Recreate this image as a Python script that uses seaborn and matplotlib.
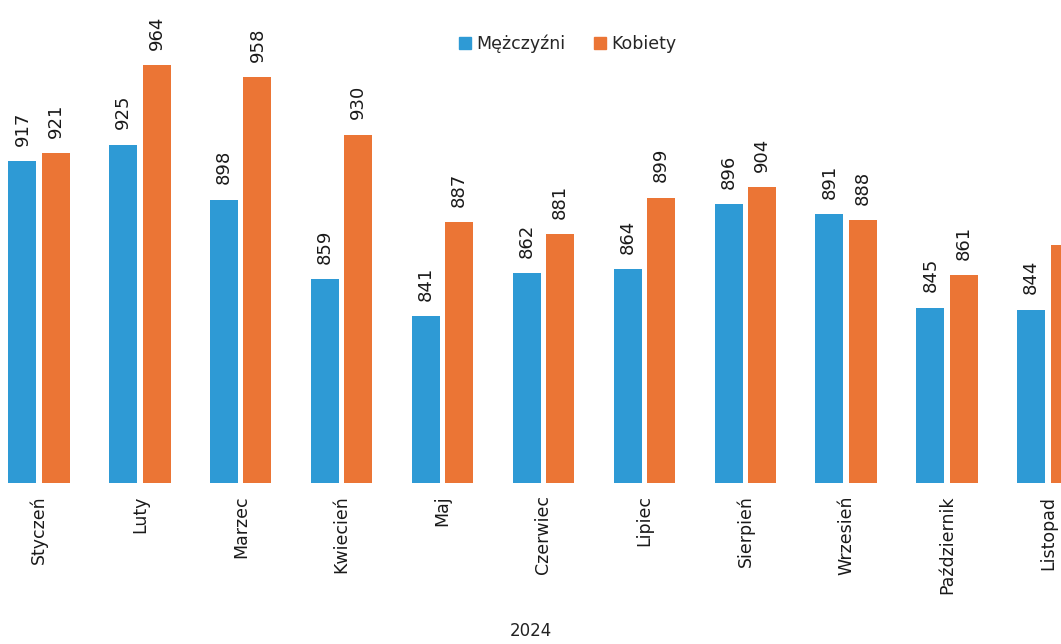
"""Monthly values 2024 by sex: grouped bar chart (cropped view)."""

import matplotlib.pyplot as plt
import pandas as pd
import seaborn as sns

months = ["Styczeń", "Luty", "Marzec", "Kwiecień", "Maj", "Czerwiec",
          "Lipiec", "Sierpień", "Wrzesień", "Październik", "Listopad"]
men = [917, 925, 898, 859, 841, 862, 864, 896, 891, 845, 844]
women = [921, 964, 958, 930, 887, 881, 899, 904, 888, 861, 876]
series = ["Mężczyźni", "Kobiety"]
colors = ["#2E9AD5", "#EB7535"]

df = pd.DataFrame({
    "miesiac": months * 2,
    "wartosc": men + women,
    "plec": [series[0]] * len(months) + [series[1]] * len(months),
})

sns.set_style("white")
plt.rcParams["font.family"] = ["DejaVu Sans"]

fig = plt.figure(figsize=(10.61, 6.44), dpi=100)
ax = fig.add_axes([0.0, 0.25, 1.0, 0.75])

sns.barplot(data=df, x="miesiac", y="wartosc", hue="plec",
            palette=colors, saturation=1, width=0.66, gap=0.16,
            linewidth=0, ax=ax, legend=False)

# value labels above bars, rotated
for cont in ax.containers:
    ax.bar_label(cont, fmt="%d", rotation=90, padding=11,
                 fontsize=13, color="#1a1a1a")

ax.set_xlim(-0.387, 10.13)
ax.set_ylim(759, 996)
ax.set_yticks([])
for s in ax.spines.values():
    s.set_visible(False)

ax.tick_params(axis="x", length=0, pad=9, labelsize=12.5, rotation=90)
for lab in ax.get_xticklabels():
    lab.set_color("#1a1a1a")
ax.set_xlabel("2024", fontsize=12, color="#222222", labelpad=20)
ax.set_ylabel("")

handles = [plt.Rectangle((0, 0), 1, 1, color=c) for c in colors]
fig.legend(handles, series, loc="center", bbox_to_anchor=(0.535, 0.932),
           ncol=2, frameon=False, fontsize=12.5, handlelength=0.7,
           handleheight=0.7, handletextpad=0.3, columnspacing=1.6)

fig.savefig("out.png", dpi=100)
print("Saved out.png")
